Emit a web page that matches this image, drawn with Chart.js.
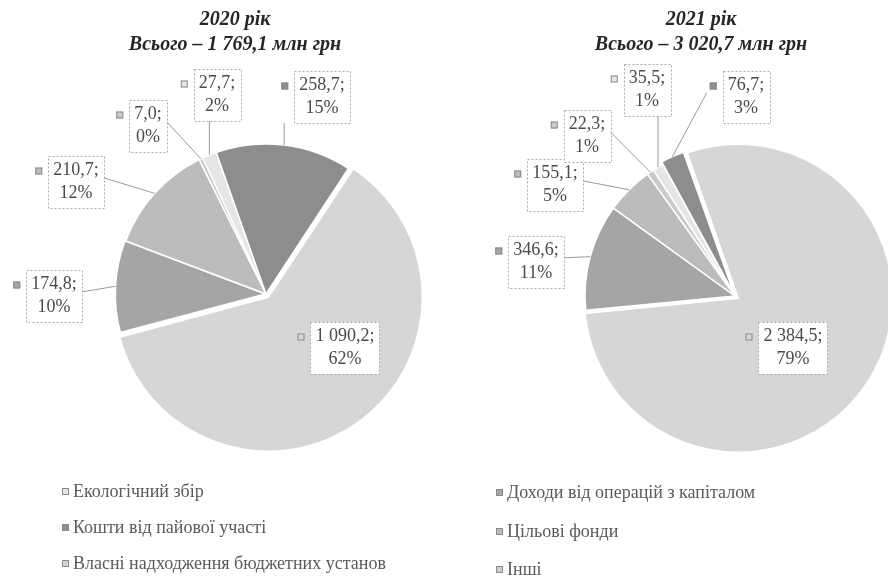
<!DOCTYPE html>
<html><head><meta charset="utf-8">
<script src="https://cdn.jsdelivr.net/npm/chart.js@4.4.1/dist/chart.umd.min.js"></script>
<style>
html,body{margin:0;padding:0;background:#fff;width:888px;height:587px;overflow:hidden}
#c2020{position:absolute;left:0;top:0}
#c2021{position:absolute;left:444px;top:0}
</style></head><body>
<canvas id="c2020" width="444" height="587"></canvas>
<canvas id="c2021" width="444" height="587"></canvas>
<script>
// ---- data ----
const categories = [
  'Екологічний збір',
  'Кошти від пайової участі',
  'Власні надходження бюджетних установ',
  'Доходи від операцій з капіталом',
  'Цільові фонди',
  'Інші'
];
const values2020 = [27.7, 258.7, 1090.2, 174.8, 210.7, 7.0];
const values2021 = [35.5, 76.7, 2384.5, 346.6, 155.1, 22.3];
const yearTitles = ['2020 рік', '2021 рік'];

// ---- styles / layout ----
const sliceColors = ['#e6e6e6', '#8d8d8d', '#d6d6d6', '#a5a5a5', '#bcbcbc', '#cacaca'];
const SERIF = '"Liberation Serif", "Times New Roman", serif';

const layout2020 = {
  rotation: -25, center: [266, 294], radius: 150, offsets: [0, 0, 16, 2, 0, 0],
  titleX: 235,
  labelPos: [[217, 95], [322, 97], [345, 348], [54, 296], [76, 182], [148, 126]],
  inside: [false, false, true, false, false, false],
  legendX: 62, legendRows: [492, 528, 564], legendItems: [0, 1, 2]
};
const layout2021 = {
  rotation: -33, center: [291, 296], radius: 150, offsets: [0, 6, 16, 0, 0, 0],
  titleX: 257,
  labelPos: [[203, 90], [302, 97], [349, 348], [92, 262], [111, 185], [143, 136]],
  inside: [false, false, true, false, false, false],
  legendX: 52, legendRows: [493, 532, 570], legendItems: [3, 4, 5]
};

function fmt(v) {
  const parts = v.toFixed(1).split('.');
  return parts[0].replace(/\B(?=(\d{3})+(?!\d))/g, ' ') + ',' + parts[1];
}

// actual translation Chart.js v4 applies for an arc offset
function arcShift(offset, circumference) {
  const fix = 1 - Math.sin(Math.min(Math.PI, circumference || 0));
  return offset / 4 * (1 + fix);
}

function makeDecor(L, values, title) {
  const total = values.reduce((a, b) => a + b, 0);
  return {
    id: 'decor',
    afterDatasetsDraw(chart) {
      const ctx = chart.ctx;
      const meta = chart.getDatasetMeta(0);
      const lineH = 23;
      ctx.save();
      ctx.font = '18px ' + SERIF;
      meta.data.forEach((arc, i) => {
        const p = arc.getProps(['x', 'y', 'startAngle', 'endAngle', 'outerRadius', 'circumference'], true);
        const mid = (p.startAngle + p.endAngle) / 2;
        const r = p.outerRadius + arcShift(L.offsets[i], p.circumference);
        const ax = p.x + Math.cos(mid) * r;
        const ay = p.y + Math.sin(mid) * r;
        const lines = [fmt(values[i]) + ';', Math.round(values[i] / total * 100) + '%'];
        const w = Math.max(...lines.map(t => ctx.measureText(t).width)) + 10;
        const h = lineH * 2 + 6;
        const cx = L.labelPos[i][0], cy = L.labelPos[i][1];
        const bx = cx - w / 2, by = cy - h / 2;
        if (!L.inside[i]) {
          const bl = bx - 16, br = bx + w, bt = by, bb = by + h;
          let tx, ty;
          if (ax < bl || ax > br) { tx = ax < bl ? bl : br; ty = bt + h * 0.42; }
          else if (ay > bb) { tx = ax; ty = bb; }
          else { tx = ax; ty = bt; }
          ctx.strokeStyle = '#9a9a9a';
          ctx.lineWidth = 1;
          ctx.setLineDash([]);
          ctx.beginPath(); ctx.moveTo(ax, ay); ctx.lineTo(tx, ty); ctx.stroke();
        }
        ctx.fillStyle = '#ffffff';
        ctx.fillRect(bx, by, w, h);
        ctx.strokeStyle = '#a8a8a8';
        ctx.lineWidth = 1;
        ctx.setLineDash([2, 2]);
        ctx.strokeRect(Math.round(bx) + 0.5, Math.round(by) + 0.5, Math.round(w), Math.round(h));
        ctx.setLineDash([]);
        const my = by + 3 + lineH / 2;
        ctx.fillStyle = sliceColors[i];
        ctx.fillRect(bx - 13, my - 3, 7, 7);
        ctx.strokeStyle = '#8a8a8a';
        ctx.strokeRect(bx - 12.5, my - 2.5, 6, 6);
        ctx.fillStyle = '#4a4a4a';
        ctx.textAlign = 'center';
        ctx.textBaseline = 'middle';
        ctx.fillText(lines[0], cx, by + 3 + lineH / 2);
        ctx.fillText(lines[1], cx, by + 3 + lineH * 1.5);
      });
      ctx.restore();
    },
    afterDraw(chart) {
      const ctx = chart.ctx;
      ctx.save();
      ctx.fillStyle = '#262626';
      ctx.textAlign = 'center';
      ctx.textBaseline = 'middle';
      ctx.font = 'bold italic 20px ' + SERIF;
      ctx.fillText(title, L.titleX, 20);
      ctx.fillText('Всього – ' + fmt(total) + ' млн грн', L.titleX, 45);
      ctx.textAlign = 'left';
      ctx.font = '18px ' + SERIF;
      L.legendItems.forEach((k, j) => {
        const y = L.legendRows[j];
        ctx.fillStyle = sliceColors[k];
        ctx.fillRect(L.legendX, y - 4, 7, 7);
        ctx.strokeStyle = '#8a8a8a';
        ctx.lineWidth = 1;
        ctx.strokeRect(L.legendX + 0.5, y - 3.5, 6, 6);
        ctx.fillStyle = '#5a5a5a';
        ctx.fillText(categories[k], L.legendX + 11, y);
      });
      ctx.restore();
    }
  };
}

function makeChart(id, values, L, title) {
  const W = 444, H = 587, R = L.radius;
  return new Chart(document.getElementById(id), {
    type: 'pie',
    data: {
      labels: categories,
      datasets: [{
        data: values,
        backgroundColor: sliceColors,
        borderColor: '#ffffff',
        borderWidth: 1.5,
        offset: L.offsets,
        hoverOffset: 0
      }]
    },
    options: {
      responsive: false,
      animation: false,
      events: [],
      rotation: L.rotation,
      radius: R,
      layout: { padding: {
        left: L.center[0] - R, right: W - (L.center[0] + R),
        top: L.center[1] - R, bottom: H - (L.center[1] + R)
      } },
      plugins: { legend: { display: false }, tooltip: { enabled: false }, title: { display: false } }
    },
    plugins: [makeDecor(L, values, title)]
  });
}

makeChart('c2020', values2020, layout2020, yearTitles[0]);
makeChart('c2021', values2021, layout2021, yearTitles[1]);
</script>
</body></html>
